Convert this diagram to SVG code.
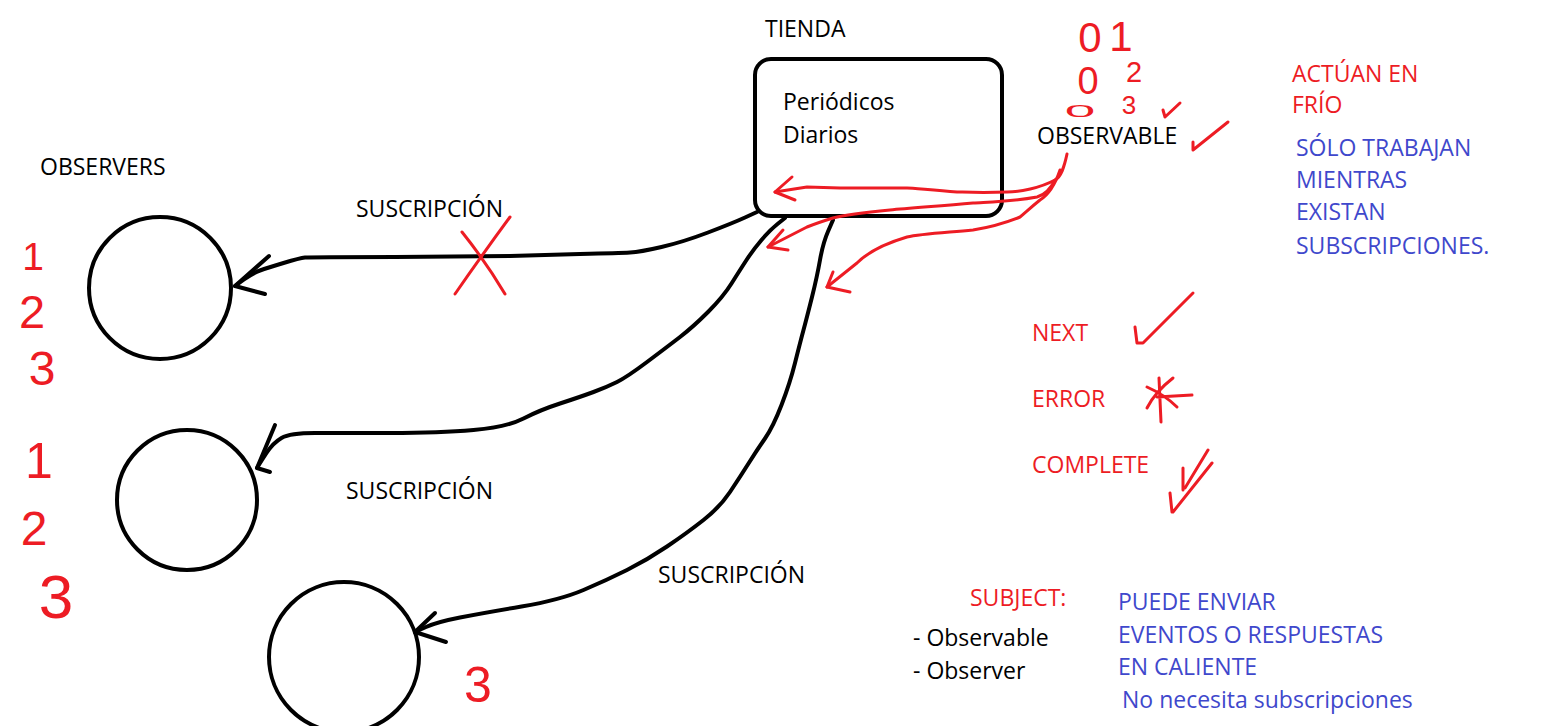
<svg xmlns="http://www.w3.org/2000/svg" width="1550" height="726" viewBox="0 0 1550 726">
<style>
text{font-family:"Open Sans","Noto Sans",sans-serif;font-size:23px}
.k{fill:#000}
.r{fill:#ED1C24}
.b{fill:#3F48CC}
text.hw{font-family:"Liberation Sans",sans-serif;fill:#ED1C24;text-anchor:middle}
.ln{fill:none;stroke:#000;stroke-width:4;stroke-linecap:round;stroke-linejoin:round}
.rl{fill:none;stroke:#ED1C24;stroke-width:3;stroke-linecap:round;stroke-linejoin:round}
.node{fill:none;stroke:#000;stroke-width:4}
</style>
<rect width="1550" height="726" fill="#fff"/>

<g id="tienda">
<rect class="node" x="755" y="59" width="247" height="157" rx="16"/>
<text class="k" x="765" y="37">TIENDA</text>
<text class="k" x="783" y="110">Periódicos</text>
<text class="k" x="783" y="143">Diarios</text>
</g>

<g id="observable">
<text class="k" x="1037" y="144">OBSERVABLE</text>
<text class="hw" x="1090" y="52" style="font-size:42px">0</text>
<text class="hw" x="1121" y="51" style="font-size:42px">1</text>
<text class="hw" x="1088" y="94" style="font-size:38px">0</text>
<text class="hw" x="1134" y="82" style="font-size:29px">2</text>
<text class="hw" transform="translate(1080,117) scale(1.25,0.37)" x="0" y="0" style="font-size:44px">0</text>
<text class="hw" x="1129" y="114" style="font-size:26px">3</text>
<path class="rl" d="M1163,110 L1165,117 L1180,103"/>
<path class="rl" d="M1193,142 L1193,150 L1228,122"/>
</g>

<g id="observers-label">
<text class="k" x="40" y="175">OBSERVERS</text>
</g>

<g id="observer1">
<circle class="node" cx="160" cy="288" r="71"/>
<text class="hw" x="33" y="270" style="font-size:39px">1</text>
<text class="hw" x="32" y="328" style="font-size:47px">2</text>
<text class="hw" x="42" y="385" style="font-size:48px">3</text>
</g>

<g id="observer2">
<circle class="node" cx="187" cy="500" r="70"/>
<text class="hw" x="39" y="478" style="font-size:50px">1</text>
<text class="hw" x="34" y="545" style="font-size:48px">2</text>
<text class="hw" x="56" y="618" style="font-size:62px">3</text>
</g>

<g id="observer3">
<circle class="node" cx="344" cy="657" r="75"/>
<text class="hw" x="478" y="702" style="font-size:50px">3</text>
</g>

<g id="connectors">
<path class="ln" d="M757,212 L745,217.5 Q733,223 708,232.5 Q683,242 661.5,247 Q640,252 630,252.5 Q620,253 580,254 L510,256 L395,257 Q310,257 305,257.5 Q300,258 283.5,263 Q267,268 260,270.5 Q253,273 244,279.5 L235,286"/>
<path class="ln" d="M269,256 L235,286 L265,294"/>
<path class="ln" d="M785,218 L777.5,224 Q770,230 761.5,240 Q753,250 746.5,260 Q740,270 731.5,283.5 Q723,297 708,312 Q693,327 680,337 Q667,347 647,362 Q627,377 617,382 Q607,387 593.5,392 Q580,397 560,403.5 Q540,410 523.5,418.5 Q507,427 473.5,430 Q440,433 390,433 L315,433 Q290,433 281.5,438 Q273,443 266.5,453 Q260,463 257,468"/>
<path class="ln" d="M275,425 L257,468 L270,472"/>
<path class="ln" d="M833,220 L828,231.5 Q823,243 820,260 Q817,277 812,297 Q807,317 803.5,330 Q800,343 795,363 Q790,383 781.5,405 Q773,427 765,438.5 Q757,450 748.5,463.5 Q740,477 730,492 Q720,507 703.5,520 Q687,533 667,546.5 Q647,560 627,570 Q607,580 583.5,590 Q560,600 521.5,606.5 Q483,613 460,617.5 Q437,622 426,627 L415,632"/>
<path class="ln" d="M435,613 L415,632 L446,642"/>
<path class="rl" d="M455,294 Q482,255 510,217 M462,232 Q486,262 505,294"/>
<path class="rl" d="M1067,154 C1064,168 1061,177 1055,180 C1040,188 1020,192 1007,192 C980,193 962,192 957,192 C930,190 912,188 907,188 L840,188 L807,187 L775,192"/>
<path class="rl" d="M792,177 L775,192 L795,200"/>
<path class="rl" d="M1055,180 C1050,190 1045,195 1037,197 C1010,202 990,202 973,203 C940,206 910,208 890,210 C860,213 845,215 833,218 C820,222 812,225 807,227 L768,247"/>
<path class="rl" d="M783,230 L768,247 L788,250"/>
<path class="rl" d="M1060,170 C1055,185 1048,195 1040,200 C1030,208 1025,213 1020,217 C1000,225 985,228 973,230 C940,233 920,234 907,237 C880,245 865,255 857,263 L827,287"/>
<path class="rl" d="M833,272 L827,287 L850,292"/>
</g>

<g id="suscripcion-labels">
<text class="k" x="356" y="217">SUSCRIPCIÓN</text>
<text class="k" x="346" y="499">SUSCRIPCIÓN</text>
<text class="k" x="658" y="583">SUSCRIPCIÓN</text>
</g>

<g id="frio">
<text class="r" x="1292" y="82">ACTÚAN EN</text>
<text class="r" x="1292" y="113">FRÍO</text>
<text class="b" x="1296" y="156">SÓLO TRABAJAN</text>
<text class="b" x="1296" y="188">MIENTRAS</text>
<text class="b" x="1296" y="220">EXISTAN</text>
<text class="b" x="1296" y="254">SUBSCRIPCIONES.</text>
</g>

<g id="events">
<text class="r" x="1032" y="341">NEXT</text>
<path class="rl" d="M1135,327 L1137,343 L1143,343 L1193,293"/>
<text class="r" x="1032" y="407">ERROR</text>
<path class="rl" d="M1159,378 L1161,422 M1147,387 Q1165,395 1177,407 M1173,378 Q1155,392 1147,408 M1157,397 L1192,395"/>
<text class="r" x="1032" y="473">COMPLETE</text>
<path class="rl" d="M1208,450 L1185,488 M1183,468 L1183,490 M1212,463 L1173,512 M1170,493 L1172,512"/>
</g>

<g id="subject">
<text class="r" x="970" y="606">SUBJECT:</text>
<text class="k" x="913" y="646">- Observable</text>
<text class="k" x="913" y="679">- Observer</text>
<text class="b" x="1118" y="610">PUEDE ENVIAR</text>
<text class="b" x="1118" y="643">EVENTOS O RESPUESTAS</text>
<text class="b" x="1118" y="675">EN CALIENTE</text>
<text class="b" x="1122" y="708">No necesita subscripciones</text>
</g>
</svg>
